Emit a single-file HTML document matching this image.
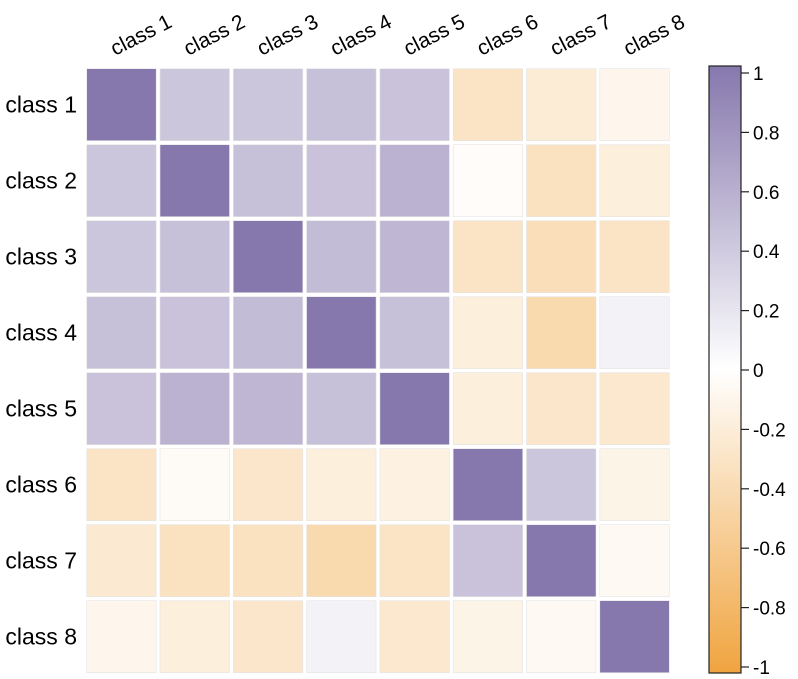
<!DOCTYPE html>
<html><head><meta charset="utf-8"><style>body{margin:0;background:#fff}svg{display:block;font-family:"Liberation Sans",sans-serif}</style></head>
<body>
<svg id="s" width="798" height="679" xmlns="http://www.w3.org/2000/svg">
<defs><linearGradient id="g" x1="0" y1="1" x2="0" y2="0">
<stop offset="0" stop-color="#f0a43f"/><stop offset="0.5" stop-color="#ffffff"/><stop offset="1" stop-color="#8678ad"/>
</linearGradient></defs>
<rect x="709" y="66" width="32" height="607" fill="url(#g)" stroke="#222" stroke-width="1.2"/>
</svg>
<script>
const M=[[1,.42,.42,.47,.45,-.3,-.22,-.1],
[.42,1,.47,.45,.57,-.03,-.33,-.18],
[.42,.47,1,.5,.54,-.3,-.36,-.3],
[.47,.45,.5,1,.47,-.18,-.42,.1],
[.45,.57,.54,.47,1,-.18,-.27,-.25],
[-.3,-.04,-.27,-.18,-.15,1,.42,-.12],
[-.24,-.33,-.33,-.42,-.3,.45,1,-.06],
[-.1,-.18,-.27,.1,-.25,-.12,-.06,1]];
const s=document.getElementById('s');let h='';
function col(v){const a=v>=0?[134,120,173]:[240,164,63];const t=Math.abs(v);return `rgb(${a.map(c=>Math.round(255+(c-255)*t)).join(',')})`;}
for(let r=0;r<8;r++)for(let c=0;c<8;c++){const x=86.7+c*73.3,y=68.7+r*76;h+=`<rect x="${x}" y="${y}" width="69.5" height="72" fill="${col(M[r][c])}" stroke="#e4e4e4" stroke-width="0.6"/>`;}
for(let i=0;i<8;i++){h+=`<text x="77" y="${104.7+i*76+8}" text-anchor="end" font-size="23">class ${i+1}</text>`;
const cx=121+i*73.3;h+=`<text transform="translate(${cx-6},${56}) rotate(-27)" font-size="21">class ${i+1}</text>`;}
const ticks=[1,.8,.6,.4,.2,0,-.2,-.4,-.6,-.8,-1];
for(const t of ticks){const y=370-t*297;h+=`<line x1="741" x2="749" y1="${y}" y2="${y}" stroke="#222" stroke-width="1.2"/><text x="753" y="${y+7}" font-size="19">${t==0?'0':(t==1||t==-1)?t:t.toFixed(1)}</text>`;}
s.insertAdjacentHTML('beforeend',h);
</script>
</body></html>
